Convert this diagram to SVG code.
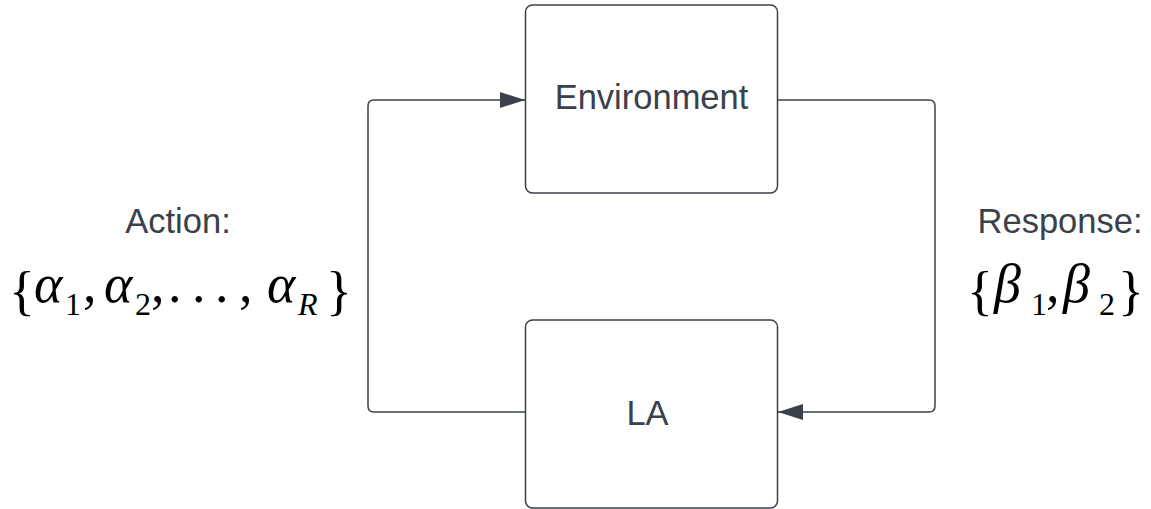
<svg xmlns="http://www.w3.org/2000/svg" width="1151" height="509" viewBox="0 0 1151 509">
  <style>
    .box { fill: #ffffff; stroke: #3a414a; stroke-width: 1.5; }
    .label { font-family: "Liberation Sans", Arial, sans-serif; font-size: 34.5px; fill: #3a414a; text-anchor: middle; }
    .wire { fill: none; stroke: #3a414a; stroke-width: 1.5; }
    .math { font-family: "Liberation Serif", "Times New Roman", serif; font-size: 54px; fill: #000000; }
    .it { font-style: italic; }
    .sub { font-size: 32px; }
  </style>
  <defs>
    <marker id="arrow" markerUnits="userSpaceOnUse" markerWidth="26" markerHeight="18" refX="25" refY="8" orient="auto">
      <path d="M0,0 L25,8 L0,16 Z" fill="#3a414a"/>
    </marker>
  </defs>

  <rect width="1151" height="509" fill="#ffffff"/>

  <!-- connectors -->
  <g id="connectors">
    <path class="wire" d="M525,412 H374 Q368,412 368,406 V106 Q368,100 374,100 H525" marker-end="url(#arrow)"/>
    <path class="wire" d="M777,100 H929 Q935,100 935,106 V406 Q935,412 929,412 H778" marker-end="url(#arrow)"/>
  </g>

  <g id="environment">
    <rect class="box" x="525.5" y="5" width="252" height="188" rx="7"/>
    <text class="label" x="651.5" y="109">Environment</text>
  </g>

  <g id="la">
    <rect class="box" x="525.5" y="320" width="252" height="188" rx="7"/>
    <text class="label" x="647.5" y="425">LA</text>
  </g>

  <!-- action set -->
  <g id="action">
    <text class="label" x="178" y="233">Action:</text>
    <text class="math">
      <tspan x="9" y="309">{</tspan>
      <tspan class="it" x="34" y="302">α</tspan>
      <tspan class="sub" x="65" y="315">1</tspan>
      <tspan x="83" y="302">,</tspan>
      <tspan class="it" x="104" y="302">α</tspan>
      <tspan class="sub" x="135" y="315">2</tspan>
      <tspan x="151" y="302">,</tspan>
      <tspan x="168" y="302">.</tspan>
      <tspan x="192" y="302">.</tspan>
      <tspan x="215" y="302">.</tspan>
      <tspan x="239" y="302">,</tspan>
      <tspan class="it" x="267" y="302">α</tspan>
      <tspan class="sub it" x="298" y="315">R</tspan>
      <tspan x="326" y="309">}</tspan>
    </text>
  </g>

  <!-- response set -->
  <g id="response">
    <text class="label" x="1060" y="233">Response:</text>
    <text class="math">
      <tspan x="967" y="309">{</tspan>
      <tspan class="it" x="994" y="302">β</tspan>
      <tspan class="sub" x="1031" y="315">1</tspan>
      <tspan x="1046" y="302">,</tspan>
      <tspan class="it" x="1063" y="302">β</tspan>
      <tspan class="sub" x="1099" y="315">2</tspan>
      <tspan x="1118" y="309">}</tspan>
    </text>
  </g>
</svg>
